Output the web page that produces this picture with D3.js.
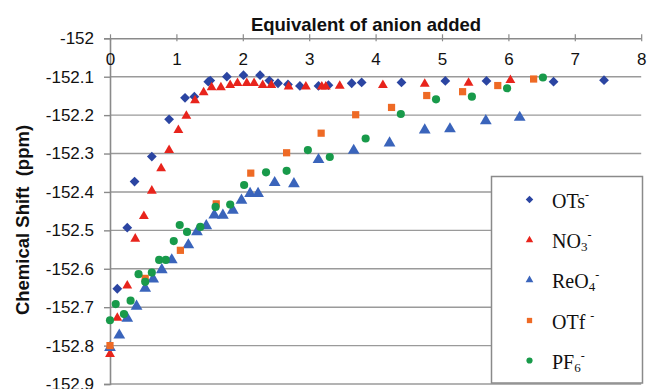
<!DOCTYPE html>
<html>
<head>
<meta charset="utf-8">
<script src="https://cdn.jsdelivr.net/npm/d3@7"></script>
<style>
  html, body { margin: 0; padding: 0; background: #fff; }
  svg { display: block; }
</style>
</head>
<body>
<div id="chart"></div>
<script>
// 19F chemical shift versus equivalents of anion added
const xTicks = [0, 1, 2, 3, 4, 5, 6, 7, 8];
const yTicks = [-152, -152.1, -152.2, -152.3, -152.4, -152.5, -152.6, -152.7, -152.8, -152.9];
const yTickLabels = ["-152", "-152.1", "-152.2", "-152.3", "-152.4", "-152.5", "-152.6", "-152.7", "-152.8", "-152.9"];

const otsX = [0.11, 0.26, 0.37, 0.63, 0.89, 1.13, 1.27, 1.48, 1.51, 1.76, 2.01, 2.26, 2.40, 2.53, 2.68, 2.86, 3.14, 3.29, 3.64, 3.79, 4.39, 5.05, 5.67, 6.68, 7.44];
const otsY = [-152.652, -152.493, -152.373, -152.308, -152.211, -152.155, -152.152, -152.113, -152.110, -152.100, -152.096, -152.096, -152.110, -152.117, -152.120, -152.124, -152.124, -152.122, -152.117, -152.115, -152.115, -152.111, -152.111, -152.113, -152.109];

const no3X = [0, 0.11, 0.26, 0.38, 0.51, 0.63, 0.77, 0.89, 1.03, 1.15, 1.28, 1.41, 1.53, 1.67, 1.81, 1.92, 2.06, 2.17, 2.30, 2.43, 2.69, 2.95, 3.19, 3.25, 3.46, 4.11, 4.74, 5.40, 6.03];
const no3Y = [-152.822, -152.728, -152.644, -152.522, -152.463, -152.397, -152.339, -152.291, -152.239, -152.202, -152.162, -152.141, -152.128, -152.128, -152.122, -152.117, -152.117, -152.117, -152.122, -152.122, -152.126, -152.126, -152.126, -152.126, -152.124, -152.122, -152.119, -152.116, -152.109];

const reo4X = [0, 0.14, 0.26, 0.40, 0.53, 0.65, 0.78, 0.93, 1.18, 1.31, 1.45, 1.57, 1.70, 1.85, 1.98, 2.11, 2.23, 2.48, 2.77, 3.14, 3.67, 4.21, 4.74, 5.12, 5.66, 6.17];
const reo4Y = [-152.805, -152.773, -152.729, -152.698, -152.651, -152.627, -152.603, -152.577, -152.538, -152.504, -152.488, -152.460, -152.461, -152.448, -152.422, -152.404, -152.404, -152.376, -152.379, -152.316, -152.292, -152.273, -152.239, -152.236, -152.215, -152.206];

const otfX = [0, 0.53, 1.06, 1.60, 2.12, 2.66, 3.18, 3.70, 4.24, 4.77, 5.31, 5.84, 6.38];
const otfY = [-152.800, -152.625, -152.552, -152.431, -152.351, -152.298, -152.247, -152.199, -152.180, -152.149, -152.139, -152.123, -152.106];

const pf6X = [0, 0.086, 0.21, 0.31, 0.43, 0.53, 0.63, 0.74, 0.84, 0.96, 1.05, 1.16, 1.36, 1.59, 1.81, 2.02, 2.35, 2.66, 2.98, 3.31, 3.85, 4.38, 4.91, 5.45, 5.98, 6.52];
const pf6Y = [-152.734, -152.692, -152.718, -152.683, -152.614, -152.634, -152.610, -152.577, -152.577, -152.528, -152.486, -152.504, -152.491, -152.439, -152.433, -152.382, -152.349, -152.345, -152.291, -152.309, -152.261, -152.197, -152.159, -152.152, -152.130, -152.102];

const W = 647, H = 389;
const margin = { left: 110, right: 6, top: 38.3, bottom: 5 };

// Square rotated 45 degrees (spreadsheet-style diamond marker)
const squareDiamond = {
  draw(ctx, size) {
    const r = Math.sqrt(size / 2);
    ctx.moveTo(0, -r); ctx.lineTo(r, 0); ctx.lineTo(0, r); ctx.lineTo(-r, 0); ctx.closePath();
  }
};

const series = [
  { name: "OTs",  xs: otsX,  ys: otsY,  type: squareDiamond,     size: 48, legendSize: 28, color: "#2b45a2" },
  { name: "NO3",  xs: no3X,  ys: no3Y,  type: d3.symbolTriangle, size: 42, legendSize: 24, color: "#e8241c" },
  { name: "ReO4", xs: reo4X, ys: reo4Y, type: d3.symbolTriangle, size: 60, legendSize: 26, color: "#3a64bb" },
  { name: "OTf",  xs: otfX,  ys: otfY,  type: d3.symbolSquare,   size: 52, legendSize: 28, color: "#ee6a25" },
  { name: "PF6",  xs: pf6X,  ys: pf6Y,  type: d3.symbolCircle,   size: 52, legendSize: 30, color: "#189a4a" }
];

const svg = d3.select("#chart").append("svg")
  .attr("width", W).attr("height", H);

const x = d3.scaleLinear().domain([0, 8]).range([margin.left, 641.2]);
const y = d3.scaleLinear().domain([-152, -152.9]).range([margin.top, 384]);

const axisColor = "#8a8a8a";
const sans = "'Liberation Sans', Arial, sans-serif";

// horizontal gridlines
svg.append("g").selectAll("line")
  .data(yTicks.slice(1))
  .join("line")
  .attr("x1", x(0)).attr("x2", x(8))
  .attr("y1", d => y(d)).attr("y2", d => y(d))
  .attr("stroke", "#9a9a9a").attr("stroke-width", 1.4);

// y axis
const yAxis = svg.append("g")
  .attr("transform", `translate(${x(0)},0)`)
  .call(d3.axisLeft(y).tickValues(yTicks).tickSize(6).tickPadding(10)
    .tickFormat((d, i) => yTickLabels[i]));
yAxis.select(".domain").attr("stroke", axisColor).attr("stroke-width", 1.6);
yAxis.selectAll(".tick line").attr("stroke", axisColor).attr("stroke-width", 1.4);
yAxis.selectAll(".tick text")
  .attr("font-family", sans).attr("font-size", 17).attr("fill", "#111");

// x axis along the top, labels inside the plot area
const xAxis = svg.append("g")
  .attr("transform", `translate(0,${y(-152)})`)
  .call(d3.axisTop(x).tickValues(xTicks).tickSize(4).tickSizeOuter(0));
xAxis.select(".domain").attr("stroke", axisColor).attr("stroke-width", 1.6);
xAxis.selectAll(".tick line").attr("stroke", axisColor).attr("stroke-width", 1.2)
  .attr("y1", 3);
xAxis.selectAll(".tick text")
  .attr("font-family", sans).attr("font-size", 17).attr("fill", "#111")
  .attr("y", 27).attr("dy", 0);

// titles
svg.append("text")
  .attr("x", 366).attr("y", 31)
  .attr("text-anchor", "middle")
  .attr("font-family", sans).attr("font-weight", "bold").attr("font-size", 18.5)
  .attr("fill", "#111")
  .text("Equivalent of anion added");

svg.append("text")
  .attr("transform", `translate(29,${220}) rotate(-90)`)
  .attr("text-anchor", "middle")
  .attr("font-family", sans).attr("font-weight", "bold").attr("font-size", 18.5)
  .attr("fill", "#111")
  .attr("xml:space", "preserve")
  .text("Chemical Shift  (ppm)");

// data markers
const plot = svg.append("g");
series.forEach(s => {
  const sym = d3.symbol().type(s.type).size(s.size);
  plot.append("g").selectAll("path")
    .data(s.xs.map((v, i) => [v, s.ys[i]]))
    .join("path")
    .attr("transform", d => `translate(${x(d[0])},${y(d[1])})`)
    .attr("d", sym)
    .attr("fill", s.color);
});

// legend
const lg = svg.append("g");
lg.append("rect")
  .attr("x", 491.5).attr("y", 176.5).attr("width", 151).attr("height", 206.5)
  .attr("fill", "#fff").attr("stroke", "#8a8a8a").attr("stroke-width", 1.5);

const legendRows = [
  { parts: [["OTs", 0], ["-", 1]] },
  { parts: [["NO", 0], ["3", -1], ["-", 1]] },
  { parts: [["ReO", 0], ["4", -1], ["-", 1]] },
  { parts: [["OTf ", 0], ["-", 1]] },
  { parts: [["PF", 0], ["6", -1], ["-", 1]] }
];
const rowY = [199.5, 240, 280, 320.5, 360.5];

series.forEach((s, i) => {
  lg.append("path")
    .attr("transform", `translate(529.5,${rowY[i]})`)
    .attr("d", d3.symbol().type(s.type).size(s.legendSize))
    .attr("fill", s.color);
  const t = lg.append("text")
    .attr("x", 552).attr("y", rowY[i] + 8)
    .attr("font-family", "'Liberation Serif', 'Times New Roman', serif")
    .attr("font-size", 20).attr("fill", "#111")
    .attr("xml:space", "preserve");
  legendRows[i].parts.forEach(([txt, pos]) => {
    const ts = t.append("tspan").text(txt);
    if (pos === 1) ts.attr("font-size", 12).attr("baseline-shift", "75%");
    if (pos === -1) ts.attr("font-size", 13).attr("baseline-shift", "-25%");
  });
});
</script>
</body>
</html>
